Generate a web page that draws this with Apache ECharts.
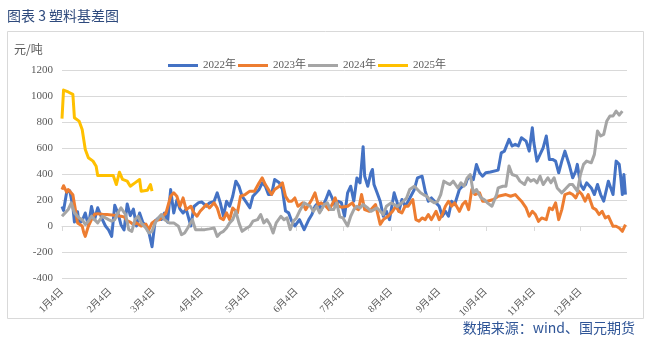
<!DOCTYPE html>
<html><head><meta charset="utf-8">
<script src="https://cdn.jsdelivr.net/npm/echarts@6.0.0/dist/echarts.min.js"></script>
<style>html,body{margin:0;padding:0;background:#fff}#c{width:650px;height:338px}</style>
</head><body><div id="c"></div>
<script>
// x = days since 1月4日
const monthTickDays = [0,31,59,90,120,151,181,212,243,273,304,334];
const monthLabels = ['1月4日','2月4日','3月4日','4月4日','5月4日','6月4日','7月4日','8月4日','9月4日','10月4日','11月4日','12月4日'];
const seriesNames = ['2022年','2023年','2024年','2025年'];
const seriesColors = ['#4472C4','#ED7D31','#A5A5A5','#FFC000'];

const days2022 = [0,1,3,5,7,8,10,11,13,15,17,19,21,23,26,28,30,32,34,36,38,40,42,44,46,48,50,52,54,56,58,60,62,64,66,68,70,72,74,76,78,80,83,85,88,90,93,95,98,100,102,104,106,108,110,112,114,116,119,121,123,127,129,131,133,135,137,140,142,144,146,148,150,153,156,157,159,161,163,165,167,170,172,174,176,178,180,181,182,184,186,188,190,192,194,195,197,199,200,201,203,205,207,209,211,214,216,217,219,221,223,227,229,232,234,236,238,241,243,245,247,249,251,253,256,258,260,261,263,265,267,269,271,273,276,281,283,285,286,288,290,292,294,296,299,301,303,304,306,308,310,312,314,316,318,320,322,324,327,329,331,332,334,336,338,341,343,345,347,349,351,352,355,357,359,360,361,362,363];
const vals2022 = [150,120,260,270,150,30,110,20,40,100,0,150,50,140,50,0,-30,-80,160,100,10,-30,170,80,130,0,100,30,0,-50,-160,40,60,50,100,30,280,100,200,130,100,130,0,150,180,185,152,178,190,255,178,75,190,152,229,345,306,229,178,140,229,281,332,306,242,242,357,332,281,115,101,37,0,49,-28,-40,49,88,152,178,126,204,268,216,152,190,180,126,75,255,306,191,370,332,610,383,306,409,435,319,255,190,75,113,49,255,178,113,204,152,190,281,370,383,268,190,216,178,152,75,113,75,190,165,281,306,319,357,383,357,473,409,383,409,415,430,563,576,589,666,615,628,615,679,653,576,756,640,499,551,602,692,512,512,499,409,499,576,461,371,422,474,319,281,332,293,242,319,242,191,293,345,242,499,474,371,242,396,242];

const days2023 = [0,1,2,3,4,5,7,9,10,13,14,15,17,19,21,23,26,29,32,35,38,40,42,44,46,48,51,54,56,58,60,63,65,67,70,72,74,76,78,80,83,85,87,89,91,93,95,98,100,102,104,106,108,110,113,115,118,121,124,127,129,131,133,135,137,140,142,144,146,148,150,152,155,157,159,161,163,165,167,170,172,174,176,178,180,181,184,187,189,191,193,195,198,200,202,205,207,210,213,215,217,219,221,223,226,228,230,232,234,236,238,241,243,245,247,249,251,253,256,258,260,262,264,266,269,271,274,278,281,286,289,292,294,296,299,301,303,305,307,309,312,314,316,318,320,322,324,327,329,331,333,335,337,339,342,344,346,348,350,352,355,357,359,361,363];
const vals2023 = [280,310,300,260,280,270,240,100,24,0,-50,-80,0,50,90,95,90,88,85,80,75,70,40,30,10,24,0,15,-28,24,40,49,75,101,229,255,229,152,216,126,152,101,75,113,139,165,139,178,139,62,49,101,49,139,101,229,242,268,268,332,370,319,281,242,281,306,332,229,191,191,216,152,178,126,165,204,255,165,178,152,126,165,216,152,145,147,152,178,139,126,242,126,113,139,165,13,49,75,113,152,113,101,152,152,204,49,37,62,49,88,49,113,49,88,152,190,152,178,113,165,190,126,281,242,255,190,190,204,229,242,229,242,216,191,139,75,113,88,36,62,49,139,126,178,49,126,242,255,242,216,268,242,191,242,139,126,88,113,62,75,-2,-2,-15,-41,11];

const days2024 = [0,2,4,6,8,11,13,15,17,19,21,23,26,28,30,32,34,36,38,41,43,45,47,49,51,54,56,58,60,62,64,66,69,72,75,77,79,81,84,86,89,92,95,98,100,102,104,106,108,110,112,114,116,119,121,123,126,128,130,132,134,136,138,141,143,145,147,149,151,153,156,158,160,162,164,166,169,171,173,175,177,179,181,184,186,188,190,192,194,197,199,201,203,205,207,209,212,214,216,218,220,222,224,227,229,231,233,235,237,240,242,244,246,248,250,252,255,257,259,261,263,265,267,270,272,274,277,280,281,284,286,288,290,291,293,295,298,300,302,304,306,308,310,313,315,317,319,322,324,327,329,332,334,336,338,341,343,345,347,349,351,353,355,357,359,361,362,363];
const vals2024 = [75,101,127,178,101,62,49,11,37,75,49,24,75,62,49,37,49,101,140,88,-28,-41,49,75,24,-15,-54,-41,24,62,88,49,24,24,-2,-67,-54,-15,49,-28,-28,-28,-22,-15,-80,-54,-41,-15,24,49,113,24,-41,-15,-2,37,49,88,24,49,11,-54,24,75,49,62,-28,37,62,113,178,165,152,113,152,101,165,178,126,126,178,70,62,0,75,126,152,139,165,139,113,126,139,113,88,152,178,165,150,170,190,216,281,306,281,255,240,229,200,178,190,242,345,330,319,345,293,332,306,370,396,255,281,216,204,178,152,242,293,306,306,461,396,409,383,345,319,371,345,358,332,383,319,371,332,371,293,255,281,319,319,268,396,474,499,486,551,731,692,705,808,846,846,884,853,884];

const days2025 = [0,1,4,7,8,11,13,14,15,17,20,22,23,33,35,37,39,42,44,47,50,51,55,57,58];
const vals2025 = [826,1046,1031,1013,833,807,743,666,589,525,499,460,389,389,319,414,358,345,306,332,358,268,275,319,268];

const yMin = -400, yMax = 1200, yStep = 200;

function pairs(d, v){ return d.map((x,i)=>[x, v[i]]); }
const allDays = [days2022, days2023, days2024, days2025];
const allVals = [vals2022, vals2023, vals2024, vals2025];

const serif = "'Liberation Serif','Noto Sans CJK SC',serif";
const chart = echarts.init(document.getElementById('c'), null, {renderer:'canvas'});
chart.setOption({
  animation:false,
  backgroundColor:'#fff',
  graphic:[
    {type:'rect', shape:{x:7.5,y:31.5,width:636,height:287}, style:{fill:'none',stroke:'#d9d9d9',lineWidth:1}, silent:true, z:-1},
    {type:'text', left:7, top:9, style:{text:'图表 3 塑料基差图', fill:'#2E4A7D', font:"14px 'Noto Sans CJK SC'"}},
    {type:'text', left:14, top:43, style:{text:'元/吨', fill:'#595959', font:"12px 'Noto Sans CJK SC'"}},
    {type:'text', right:15, top:321, style:{text:'数据来源：wind、国元期货', fill:'#2F5597', font:"14px 'Noto Sans CJK SC'"}}
  ],
  legend:{
    left:163, top:55, icon:'rect', itemWidth:30, itemHeight:3, itemGap:2,
    data:seriesNames,
    textStyle:{color:'#595959', fontSize:11, fontFamily:serif}
  },
  grid:{left:62, right:23, top:70, bottom:60, containLabel:false},
  xAxis:{
    type:'value', min:0, max:364,
    axisLine:{onZero:true, lineStyle:{color:'#d9d9d9', width:1}},
    axisTick:{show:true, customValues:monthTickDays, length:5, lineStyle:{color:'#d9d9d9'}},
    axisLabel:{customValues:monthTickDays, rotate:45, margin:12, color:'#595959', fontSize:10, fontFamily:serif,
      formatter:function(v){ const i = monthTickDays.indexOf(Math.round(v)); return i>=0 ? monthLabels[i] : ''; }},
    splitLine:{show:false}
  },
  yAxis:{
    type:'value', min:yMin, max:yMax, interval:yStep,
    axisLine:{show:false}, axisTick:{show:false},
    axisLabel:{color:'#595959', fontSize:11, fontFamily:serif, margin:9, formatter:function(v){return String(v);}},
    splitLine:{lineStyle:{color:'#d9d9d9', width:1}}
  },
  series: seriesNames.map((n,i)=>({
    name:n, type:'line', data:pairs(allDays[i], allVals[i]),
    symbol:'none', showSymbol:false,
    lineStyle:{width:3, color:seriesColors[i], join:'round'},
    itemStyle:{color:seriesColors[i]},
    z: 2+i
  }))
});
</script></body></html>
